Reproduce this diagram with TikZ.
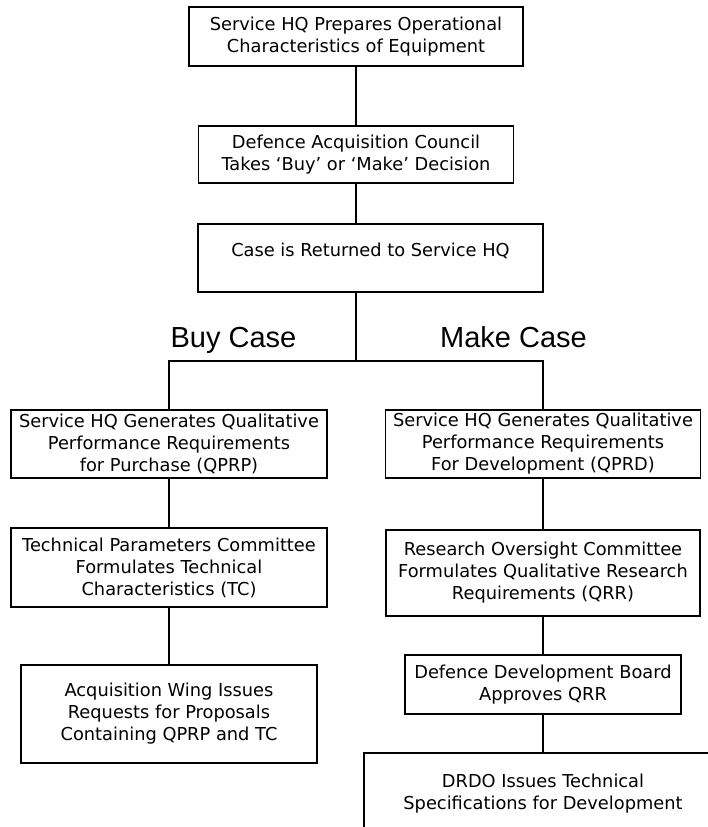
\documentclass[tikz,border=0pt]{standalone}
\usepackage{fontspec}
\setmainfont{DejaVu Sans}
\newfontfamily\labelfont{Liberation Sans}
\begin{document}
\begin{tikzpicture}[x=1pt,y=-1pt,
  box/.style={draw, line width=1.1pt, inner sep=0pt, align=center, font=\fontsize{17.8}{22}\selectfont},
  conn/.style={line width=1.1pt},
  caselabel/.style={font=\labelfont\fontsize{29}{34}\selectfont, inner sep=0pt, anchor=base}]
\clip (0,0) rectangle (708,827);
\fill[white] (0,0) rectangle (708,827);
% main column
\node[box, minimum width=334, minimum height=59] (b1) at (356,36.5) {Service HQ Prepares Operational\\Characteristics of Equipment};
\node[box, minimum width=315, minimum height=57] (b2) at (356,154.5) {Defence Acquisition Council\\Takes ‘Buy’ or ‘Make’ Decision};
\node[box, minimum width=345, minimum height=68, text depth=17pt] (b3) at (370.5,258) {Case is Returned to Service HQ};
\coordinate (split) at (356,361);
\node[caselabel] (buy) at (233.5,347) {Buy Case};
\node[caselabel] (make) at (513.5,347) {Make Case};
% buy column
\node[box, minimum width=316, minimum height=68] (b4) at (169,444) {Service HQ Generates Qualitative\\Performance Requirements\\for Purchase (QPRP)};
\node[box, minimum width=316, minimum height=79] (b6) at (169,567.5) {Technical Parameters Committee\\Formulates Technical\\Characteristics (TC)};
\node[box, minimum width=296, minimum height=98] (b8) at (169,714) {Acquisition Wing Issues\\Requests for Proposals\\Containing QPRP and TC};
% make column
\node[box, minimum width=315, minimum height=68] (b5) at (543,444) {Service HQ Generates Qualitative\\Performance Requirements\\For Development (QPRD)};
\node[box, minimum width=314, minimum height=86] (b7) at (543,573) {Research Oversight Committee\\Formulates Qualitative Research\\Requirements (QRR)};
\node[box, minimum width=276, minimum height=59] (b9) at (543,684.5) {Defence Development Board\\Approves QRR};
\node[box, minimum width=358, minimum height=82] (b10) at (543,794) {DRDO Issues Technical\\Specifications for Development};
% connectors
\draw[conn] (b1) -- (b2);
\draw[conn] (b2.south) -- (b2.south |- b3.north);
\draw[conn] (b2.south |- b3.south) -- (split);
\draw[conn] (b4.north) |- (split) -| (b5.north);
\draw[conn] (b4) -- (b6);
\draw[conn] (b6) -- (b8);
\draw[conn] (b5) -- (b7);
\draw[conn] (b7) -- (b9);
\draw[conn] (b9) -- (b10);
\end{tikzpicture}
\end{document}
